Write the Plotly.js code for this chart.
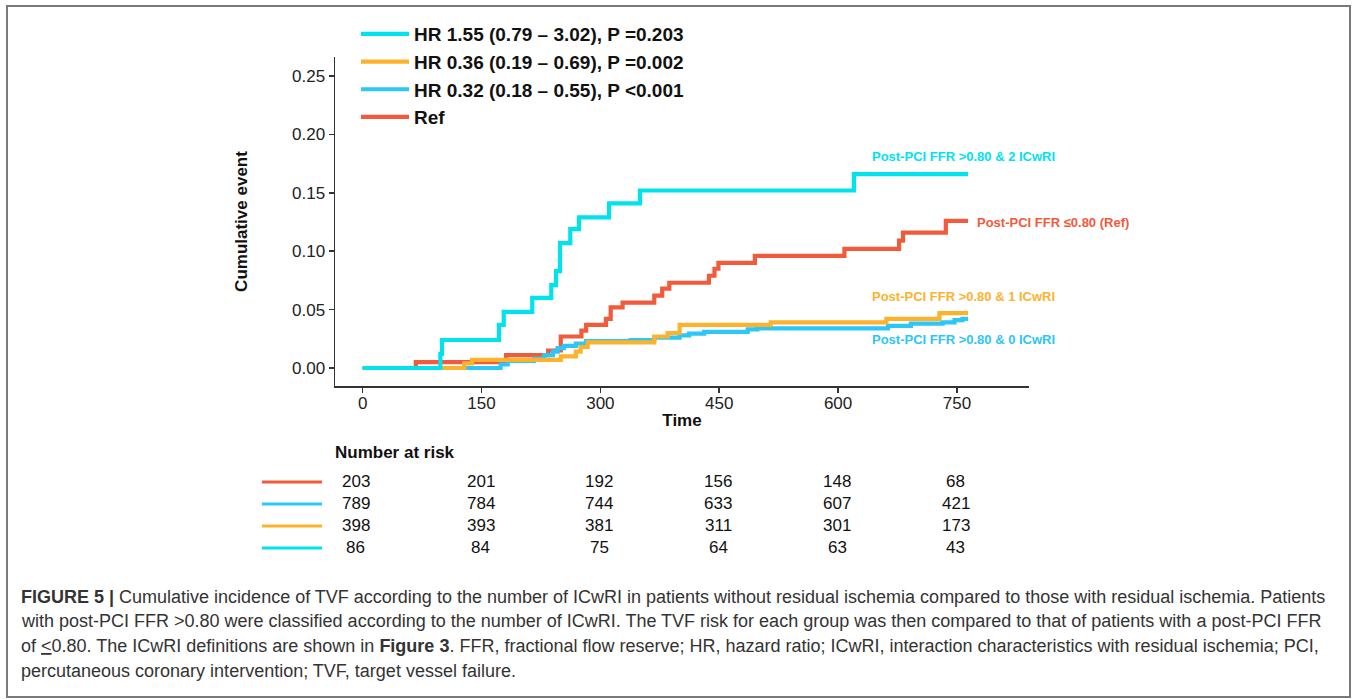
<!DOCTYPE html>
<html>
<head>
<meta charset="utf-8">
<script src="https://cdn.plot.ly/plotly-3.0.1.min.js"></script>
<style>
  html, body { margin: 0; padding: 0; background: #fff; }
  #chart { width: 1357px; height: 699px; }
</style>
</head>
<body>
<div id="chart"></div>
<script>
// ---- Data ----
const refTime = [0, 67, 181, 234, 250, 276, 282, 307, 313, 328, 368, 378, 387, 437, 444, 449, 495, 608, 677, 682, 736, 764];
const refCum  = [0, 0.005, 0.011, 0.015, 0.027, 0.032, 0.037, 0.042, 0.052, 0.056, 0.062, 0.068, 0.073, 0.079, 0.085, 0.090, 0.096, 0.102, 0.109, 0.116, 0.126, 0.126];

const icw0Time = [0, 174, 183, 216, 229, 240, 246, 254, 269, 282, 338, 368, 400, 412, 431, 486, 498, 663, 692, 732, 747, 757, 764];
const icw0Cum  = [0, 0.003, 0.006, 0.008, 0.011, 0.014, 0.017, 0.019, 0.021, 0.023, 0.024, 0.026, 0.028, 0.0295, 0.031, 0.033, 0.034, 0.036, 0.038, 0.039, 0.041, 0.042, 0.042];

const icw1Time = [0, 128, 138, 250, 269, 275, 284, 368, 385, 400, 515, 661, 728, 764];
const icw1Cum  = [0, 0.004, 0.007, 0.010, 0.014, 0.018, 0.022, 0.027, 0.030, 0.037, 0.039, 0.042, 0.047, 0.047];

const icw2Time = [0, 98, 100, 172, 178, 214, 238, 244, 249, 262, 273, 311, 350, 620, 764];
const icw2Cum  = [0, 0.012, 0.024, 0.037, 0.048, 0.060, 0.071, 0.083, 0.107, 0.119, 0.129, 0.141, 0.152, 0.166, 0.166];

const legendNames = {
  icw2: "HR 1.55 (0.79 \u2013 3.02), P =0.203",
  icw1: "HR 0.36 (0.19 \u2013 0.69), P =0.002",
  icw0: "HR 0.32 (0.18 \u2013 0.55), P <0.001",
  ref:  "Ref"
};
const curveLabels = {
  icw2: "Post-PCI FFR >0.80 & 2 ICwRI",
  ref:  "Post-PCI FFR \u22640.80 (Ref)",
  icw1: "Post-PCI FFR >0.80 & 1 ICwRI",
  icw0: "Post-PCI FFR >0.80 & 0 ICwRI"
};

const xTicks = [0, 150, 300, 450, 600, 750];
const yTicks = [0, 0.05, 0.10, 0.15, 0.20, 0.25];
const yTickText = ["0.00", "0.05", "0.10", "0.15", "0.20", "0.25"];

const riskRef  = [203, 201, 192, 156, 148, 68];
const riskIcw0 = [789, 784, 744, 633, 607, 421];
const riskIcw1 = [398, 393, 381, 311, 301, 173];
const riskIcw2 = [86, 84, 75, 64, 63, 43];

const captionLines = [
  "<b>FIGURE 5 |</b> Cumulative incidence of TVF according to the number of ICwRI in patients without residual ischemia compared to those with residual ischemia. Patients",
  "with post-PCI FFR &gt;0.80 were classified according to the number of ICwRI. The TVF risk for each group was then compared to that of patients with a post-PCI FFR",
  "of <u>&lt;</u>0.80. The ICwRI definitions are shown in <b>Figure 3</b>. FFR, fractional flow reserve; HR, hazard ratio; ICwRI, interaction characteristics with residual ischemia; PCI,",
  "percutaneous coronary intervention; TVF, target vessel failure."
];

// ---- Styles ----
const C = { ref: "#F25A3C", icw0: "#2CC6F7", icw1: "#FDB22E", icw2: "#00E2EC" };
const NARROW = "'Liberation Sans Narrow', 'Arial Narrow', 'Liberation Sans', Arial, sans-serif";
const SANS = "'Liberation Sans', Arial, sans-serif";
const LW = 4.2;

function stepTrace(x, y, name, color) {
  return { x: x, y: y, name: name, type: "scatter", mode: "lines",
           line: { shape: "hv", color: color, width: LW }, hoverinfo: "skip" };
}

const traces = [
  stepTrace(refTime, refCum, legendNames.ref, C.ref),
  stepTrace(icw0Time, icw0Cum, legendNames.icw0, C.icw0),
  stepTrace(icw1Time, icw1Cum, legendNames.icw1, C.icw1),
  stepTrace(icw2Time, icw2Cum, legendNames.icw2, C.icw2)
];

const annotations = [];
function curveLabel(text, x, y, color) {
  annotations.push({ text: "<b>" + text + "</b>", x: x, y: y, xref: "x", yref: "y",
    xanchor: "left", yanchor: "middle", showarrow: false,
    font: { family: NARROW, size: 13, color: color } });
}
curveLabel(curveLabels.icw2, 640, 0.1807, C.icw2);
curveLabel(curveLabels.ref, 773, 0.125, C.ref);
curveLabel(curveLabels.icw1, 640, 0.0616, C.icw1);
curveLabel(curveLabels.icw0, 640, 0.0248, C.icw0);

const plotTop = 57, plotBottom = 386, plotH = plotBottom - plotTop;
const plotLeft = 335, plotRight = 1029, plotW = plotRight - plotLeft;
function py(pix) { return (plotBottom - pix) / plotH; }
function px(pix) { return (pix - plotLeft) / plotW; }

annotations.push({ text: "<b>Number at risk</b>", x: px(333), y: py(452), xref: "paper", yref: "paper",
  xanchor: "left", yanchor: "middle", showarrow: false,
  font: { family: NARROW, size: 17, color: "#111" } });

const riskRows = [
  { vals: riskRef, color: C.ref, y: 481 },
  { vals: riskIcw0, color: C.icw0, y: 503 },
  { vals: riskIcw1, color: C.icw1, y: 525 },
  { vals: riskIcw2, color: C.icw2, y: 547 }
];
const shapes = [];
riskRows.forEach(r => {
  r.vals.forEach((v, i) => {
    annotations.push({ text: String(v), x: xTicks[i], y: py(r.y), xref: "x", yref: "paper",
      xanchor: "center", yanchor: "middle", showarrow: false, xshift: (i === 0 ? -7 : -1),
      font: { family: NARROW, size: 17, color: "#111" } });
  });
  shapes.push({ type: "line", xref: "paper", yref: "paper",
    x0: px(262), x1: px(322), y0: py(r.y + 1), y1: py(r.y + 1),
    line: { color: r.color, width: 3 } });
});

const capY = [597, 621, 646, 671];
captionLines.forEach((t, i) => {
  annotations.push({ text: t, x: px(19), y: py(capY[i]), xref: "paper", yref: "paper",
    xanchor: "left", yanchor: "middle", showarrow: false, align: "left",
    font: { family: SANS, size: 18, color: "#333" } });
});

shapes.push({ type: "rect", xref: "paper", yref: "paper",
  x0: px(7), x1: px(1350), y0: py(697), y1: py(6),
  line: { color: "#7a7a7a", width: 2 }, fillcolor: "rgba(0,0,0,0)", layer: "below" });

const layout = {
  width: 1357, height: 699,
  margin: { l: plotLeft, r: 1357 - plotRight, t: plotTop, b: 699 - plotBottom, pad: 0 },
  paper_bgcolor: "#fff", plot_bgcolor: "#fff",
  showlegend: true,
  legend: { x: px(356), y: py(15), xanchor: "left", yanchor: "top", traceorder: "reversed",
    font: { family: NARROW, size: 19, color: "#111", weight: "bold" },
    bgcolor: "rgba(0,0,0,0)", itemwidth: 48, tracegroupgap: 0 },
  xaxis: {
    range: [-35, 841], tickvals: xTicks, ticktext: xTicks.map(String),
    showline: true, linecolor: "#333", linewidth: 1.5, mirror: false,
    ticks: "outside", ticklen: 5, tickwidth: 1.5, tickcolor: "#333",
    showgrid: false, zeroline: false, ticklabelstandoff: -4,
    tickfont: { family: NARROW, size: 17, color: "#222" },
    title: { text: "<b>Time</b>", font: { family: NARROW, size: 17, color: "#111" }, standoff: 2 }
  },
  yaxis: {
    range: [-0.0154, 0.2663], tickvals: yTicks, ticktext: yTickText,
    showline: true, linecolor: "#333", linewidth: 1.5, mirror: false,
    ticks: "outside", ticklen: 5, tickwidth: 1.5, tickcolor: "#333",
    showgrid: false, zeroline: false,
    tickfont: { family: NARROW, size: 17, color: "#222" },
    title: { text: "<b>Cumulative event</b>", font: { family: NARROW, size: 17, color: "#111" }, standoff: 40 }
  },
  annotations: annotations,
  shapes: shapes
};

Plotly.newPlot("chart", traces, layout, { displayModeBar: false, staticPlot: true });
</script>
</body>
</html>
